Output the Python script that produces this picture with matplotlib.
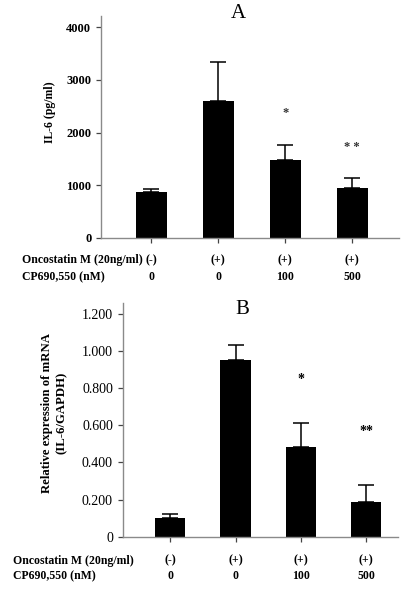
import matplotlib
matplotlib.use("Agg")
import matplotlib.pyplot as plt
import numpy as np

# ---------------------------------------------------------------------------
# Data
# ---------------------------------------------------------------------------
osm_labels = ["(-)", "(+)", "(+)", "(+)"]
cp_labels = ["0", "0", "100", "500"]

il6_protein = [870, 2590, 1485, 940]          # pg/ml
il6_protein_err = [65, 745, 270, 200]
protein_stars = ["", "", "*", "* *"]
protein_star_y = [0, 0, 2375, 1725]

il6_mrna = [0.102, 0.951, 0.482, 0.187]       # relative to GAPDH
il6_mrna_err = [0.022, 0.083, 0.129, 0.092]
mrna_stars = ["", "", "*", "**"]
mrna_star_y = [0, 0, 0.845, 0.567]

plt.rcParams["font.family"] = ["Liberation Serif", "DejaVu Serif"]
SPINE = "#8a8a8a"
FS = 8.5
W, H = 420, 595


def style_axes(ax, tick_fs, tick_weight):
    for side in ("top", "right"):
        ax.spines[side].set_visible(False)
    for side in ("left", "bottom"):
        ax.spines[side].set_color(SPINE)
        ax.spines[side].set_linewidth(1.0)
    ax.tick_params(axis="both", direction="out", color="#444444", length=3.5,
                   width=0.9, labelsize=tick_fs)
    for lab in ax.get_yticklabels():
        lab.set_fontweight(tick_weight)


def draw_panel(ax, values, errs, stars, star_y, star_color, star_fs, row_y, left_x):
    x = np.arange(len(values))
    ax.bar(x, values, width=0.46, color="black")
    ax.errorbar(x, values, yerr=[np.zeros(len(errs)), errs], fmt="none",
                ecolor="black", elinewidth=1.1, capsize=6, capthick=1.1)
    for xi, s, sy in zip(x, stars, star_y):
        if s:
            ax.text(xi, sy, s, ha="center", va="center", fontsize=star_fs,
                    fontweight="bold", color=star_color)
    ax.set_xticks(x)
    ax.set_xticklabels([])
    trans = ax.get_xaxis_transform()
    for xi, o, c in zip(x, osm_labels, cp_labels):
        ax.text(xi, row_y[0], o, transform=trans, ha="center", va="center",
                fontsize=FS, fontweight="bold")
        ax.text(xi, row_y[1], c, transform=trans, ha="center", va="center",
                fontsize=FS, fontweight="bold")
    fig = ax.figure
    bb = ax.get_position()
    for ry, txt in zip(row_y, ["Oncostatin M (20ng/ml)", "CP690,550 (nM)"]):
        yfig = bb.y0 + ry * bb.height
        fig.text(left_x, yfig, txt, ha="left", va="center", fontsize=FS,
                 fontweight="bold")


fig = plt.figure(figsize=(W / 100, H / 100), dpi=100)

# Panel A -------------------------------------------------------------------
axA = fig.add_axes([0.2405, 0.60, 0.7095, 0.373])
draw_panel(axA, il6_protein, il6_protein_err, protein_stars, protein_star_y,
           "#333333", 9, (-0.099, -0.176), 22 / W)
axA.set_xlim(-0.75, 3.7)
axA.set_ylim(0, 4210)
axA.set_yticks([0, 1000, 2000, 3000, 4000])
style_axes(axA, 9, "bold")
fig.text(50 / W, 1 - 112 / H, "IL-6 (pg/ml)", rotation=90, ha="center",
         va="center", fontsize=FS, fontweight="bold")
fig.text(238 / W, 1 - 14 / H, "A", ha="center", va="center", fontsize=15)

# Panel B -------------------------------------------------------------------
axB = fig.add_axes([0.292, 0.098, 0.6555, 0.3928])
draw_panel(axB, il6_mrna, il6_mrna_err, mrna_stars, mrna_star_y,
           "black", 10, (-0.103, -0.168), 13 / W)
axB.set_xlim(-0.73, 3.49)
axB.set_ylim(0, 1.26)
btick = [0, 0.2, 0.4, 0.6, 0.8, 1.0, 1.2]
axB.set_yticks(btick)
axB.set_yticklabels(["0"] + [f"{t:.3f}" for t in btick[1:]])
style_axes(axB, 10, "normal")
fig.text(54.5 / W, 1 - 413 / H, "Relative expression of mRNA\n(IL-6/GAPDH)",
         rotation=90, ha="center", va="center", multialignment="center",
         fontsize=9.2, fontweight="bold", linespacing=1.25)
fig.text(242 / W, 1 - 310 / H, "B", ha="center", va="center", fontsize=15)

fig.savefig("out.png", dpi=100)
